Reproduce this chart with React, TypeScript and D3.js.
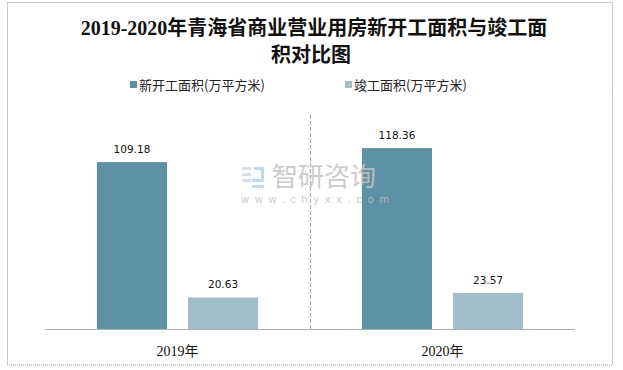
import React from 'react';
import * as d3 from 'd3';

const years = ['2019年', '2020年'];
const seriesNames = ['新开工面积(万平方米)', '竣工面积(万平方米)'];
const newStarts = [109.18, 118.36];
const completed = [20.63, 23.57];
const colors = ['#5E90A6', '#A1BDCA'];

const W = 623;
const H = 370;

const App: React.FC = () => {
  const x = d3.scaleBand<string>().domain(years).range([45, 575]);
  const inner = d3.scaleBand<number>().domain([0, 1]).range([0, x.bandwidth()]).paddingInner(0.23).paddingOuter(0.57);
  const y = d3.scaleLinear().domain([0, 140]).range([329, 115]);
  const series = [newStarts, completed];

  return (
    <svg width={W} height={H} style={{ position: 'absolute', left: 0, top: 0, background: '#fff' }}>
      <rect x={7.5} y={2.5} width={605} height={362.5} fill="#fff" stroke="#999" strokeDasharray="1 1" />

      {/* title */}
      <g fontFamily="'Liberation Serif', 'Noto Sans CJK SC', serif" fontWeight="bold" fontSize={20} textAnchor="middle" fill="#111">
        <text x={314} y={35}>2019-2020年青海省商业营业用房新开工面积与竣工面</text>
        <text x={311} y={62}>积对比图</text>
      </g>

      {/* legend */}
      <g fontFamily="'Noto Sans CJK SC', sans-serif" fontSize={13} fill="#222">
        {seriesNames.map((n, i) => {
          const lx = i === 0 ? 130 : 345;
          return (
            <g key={n}>
              <rect x={lx} y={81} width={7} height={7} fill={colors[i]} />
              <text x={lx + 9} y={89.5}>{n}</text>
            </g>
          );
        })}
      </g>

      {/* divider */}
      <line x1={310.5} x2={310.5} y1={115} y2={329} stroke="#a6a6a6" strokeDasharray="4 2" />

      {/* bars */}
      {years.map((yr, gi) => (
        <g key={yr} transform={`translate(${x(yr)},0)`}>
          {series.map((s, si) => (
            <g key={si}>
              <rect x={inner(si)} y={y(s[gi])} width={inner.bandwidth()} height={y(0) - y(s[gi])} fill={colors[si]} />
              <text
                x={(inner(si) as number) + inner.bandwidth() / 2}
                y={y(s[gi]) - 9}
                textAnchor="middle"
                fontFamily="'DejaVu Sans', sans-serif"
                fontSize={10.5}
                fill="#111"
              >
                {s[gi].toFixed(2)}
              </text>
            </g>
          ))}
        </g>
      ))}

      {/* axis */}
      <line x1={45} x2={575} y1={329.5} y2={329.5} stroke="#b0b0b0" />
      {years.map(yr => (
        <text
          key={yr}
          x={(x(yr) as number) + x.bandwidth() / 2}
          y={356}
          textAnchor="middle"
          fontFamily="'Liberation Serif', 'Noto Sans CJK SC', serif"
          fontSize={14}
          fill="#111"
        >
          {yr}
        </text>
      ))}

      {/* watermark */}
      <g opacity={0.85}>
        <rect x={242} y={167} width={9} height={3} fill="#cfdbe8" />
        <rect x={242} y={173} width={9} height={3} fill="#cfdbe8" />
        <rect x={242} y={179} width={9} height={3} fill="#cfdbe8" />
        <rect x={254} y={167} width={10} height={3} fill="#b9d3ea" />
        <rect x={261} y={167} width={3} height={12} fill="#b9d3ea" />
        <rect x={252} y={179} width={12} height={3} fill="#b9d3ea" />
        <rect x={252} y={185} width={12} height={3} fill="#b9d3ea" />
        <text x={272} y={186} fontFamily="'Noto Sans CJK SC', sans-serif" fontSize={26} fill="#c4c4c4">智研咨询</text>
        <text x={241} y={203} fontFamily="'DejaVu Sans', sans-serif" fontSize={10} fill="#c4c4c4" letterSpacing={5.6}>www.chyxx.com</text>
      </g>
    </svg>
  );
};

export default App;
